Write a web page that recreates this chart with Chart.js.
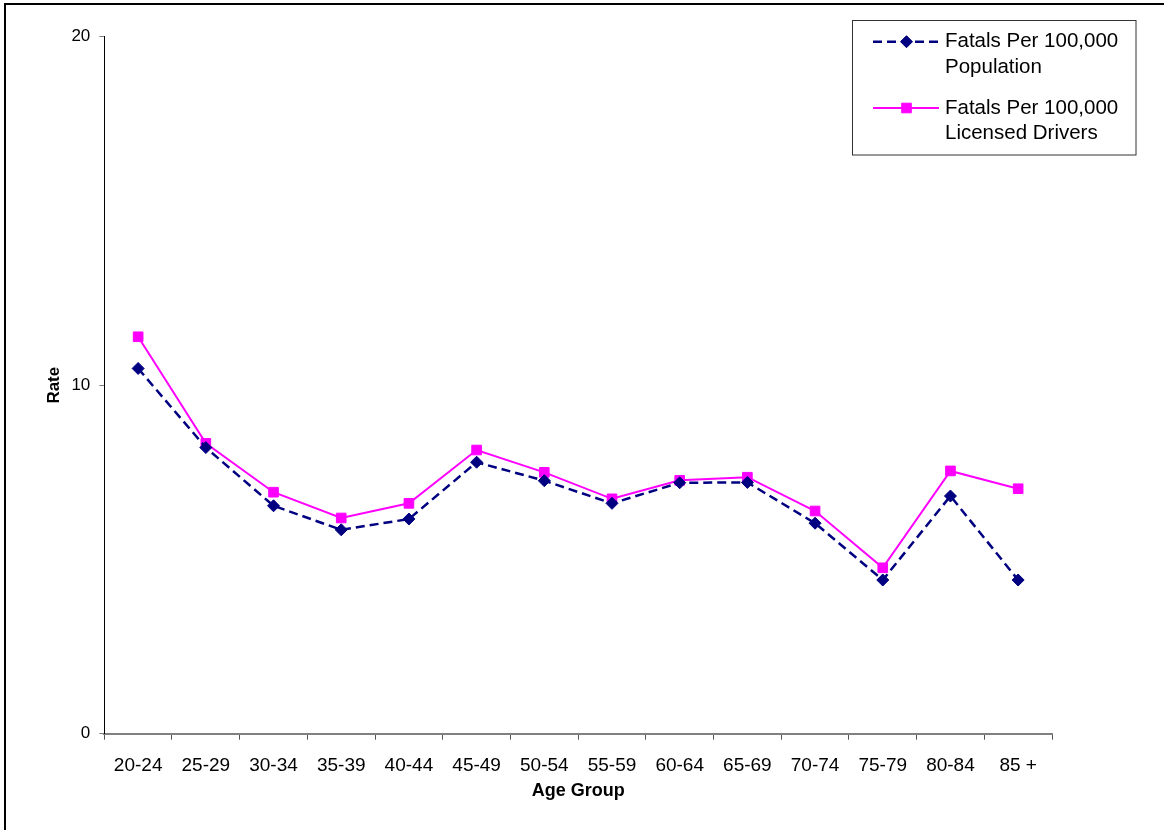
<!DOCTYPE html>
<html>
<head>
<meta charset="utf-8">
<script src="https://cdn.jsdelivr.net/npm/chart.js@4/dist/chart.umd.min.js"></script>
<style>
  html, body { margin: 0; padding: 0; background: #ffffff; }
  canvas { display: block; }
</style>
</head>
<body>
<canvas id="c" width="1164" height="830"></canvas>
<script>
const categories = ['20-24','25-29','30-34','35-39','40-44','45-49','50-54','55-59','60-64','65-69','70-74','75-79','80-84','85 +'];
const populationRates = [10.48, 8.21, 6.54, 5.85, 6.16, 7.79, 7.26, 6.61, 7.20, 7.21, 6.04, 4.41, 6.82, 4.41];
const licensedRates   = [11.39, 8.33, 6.93, 6.19, 6.61, 8.14, 7.50, 6.74, 7.27, 7.36, 6.39, 4.76, 7.54, 7.03];
const yTicks = [0, 10, 20];
const seriesLabels = [['Fatals Per 100,000', 'Population'], ['Fatals Per 100,000', 'Licensed Drivers']];

const NAVY = '#000080';
const MAGENTA = '#FF00FF';
const FONT = '"Liberation Sans", Arial, sans-serif';

const framePlugin = {
  id: 'frame',
  beforeDraw(chart) {
    const ctx = chart.ctx;
    ctx.save();
    ctx.fillStyle = '#ffffff';
    ctx.fillRect(0, 0, chart.width, chart.height);
    ctx.strokeStyle = '#000000';
    ctx.lineWidth = 2;
    ctx.beginPath();
    ctx.moveTo(5, chart.height);
    ctx.lineTo(5, 4);
    ctx.lineTo(chart.width, 4);
    ctx.stroke();
    ctx.restore();
  },
  afterDraw(chart) {
    const ctx = chart.ctx;
    ctx.save();
    ctx.strokeStyle = '#333333';
    ctx.lineWidth = 1;
    ctx.strokeRect(852.5, 20.5, 283.5, 134.5);
    const rows = [41.7, 108];
    chart.data.datasets.forEach((ds, i) => {
      const y = rows[i];
      ctx.save();
      ctx.strokeStyle = ds.borderColor;
      ctx.lineWidth = ds.borderWidth;
      ctx.setLineDash(ds.borderDash || []);
      ctx.beginPath();
      ctx.moveTo(873, y);
      ctx.lineTo(939, y);
      ctx.stroke();
      ctx.restore();
      ctx.save();
      ctx.fillStyle = ds.pointBackgroundColor;
      ctx.strokeStyle = ds.pointBorderColor;
      ctx.lineWidth = ds.pointBorderWidth;
      ctx.beginPath();
      if (ds.pointStyle === 'rect') {
        const s = ds.pointRadius * Math.SQRT1_2;
        ctx.rect(906.5 - s, y - s, 2 * s, 2 * s);
      } else {
        const r = ds.pointRadius;
        ctx.moveTo(906.5, y - r);
        ctx.lineTo(906.5 + r, y);
        ctx.lineTo(906.5, y + r);
        ctx.lineTo(906.5 - r, y);
        ctx.closePath();
      }
      ctx.fill();
      ctx.stroke();
      ctx.restore();
      ctx.fillStyle = '#000000';
      ctx.font = '20.5px ' + FONT;
      ctx.textBaseline = 'middle';
      ctx.textAlign = 'left';
      const lines = seriesLabels[i];
      lines.forEach((t, k) => ctx.fillText(t, 945, y + k * 25.3));
    });
    ctx.restore();
  }
};

new Chart(document.getElementById('c'), {
  type: 'line',
  data: {
    labels: categories,
    datasets: [
      {
        label: seriesLabels[0].join(' '),
        data: populationRates,
        borderColor: NAVY,
        backgroundColor: NAVY,
        borderWidth: 2.5,
        borderDash: [9, 5],
        pointStyle: 'rectRot',
        pointRadius: 6,
        pointBackgroundColor: NAVY,
        pointBorderColor: NAVY,
        pointBorderWidth: 1,
        tension: 0,
        fill: false
      },
      {
        label: seriesLabels[1].join(' '),
        data: licensedRates,
        borderColor: MAGENTA,
        backgroundColor: MAGENTA,
        borderWidth: 2,
        pointStyle: 'rect',
        pointRadius: 6.8,
        pointBackgroundColor: MAGENTA,
        pointBorderColor: MAGENTA,
        pointBorderWidth: 1,
        tension: 0,
        fill: false
      }
    ]
  },
  options: {
    responsive: false,
    devicePixelRatio: 1,
    animation: false,
    layout: { padding: { top: 36.7, right: 112, left: 0, bottom: 0 } },
    plugins: {
      legend: { display: false },
      tooltip: { enabled: false },
      title: { display: false }
    },
    scales: {
      x: {
        type: 'category',
        offset: true,
        grid: {
          display: true,
          offset: true,
          drawOnChartArea: false,
          drawTicks: true,
          tickLength: 6,
          color: '#555555',
          lineWidth: 1
        },
        border: { display: true, color: '#808080', width: 2 },
        ticks: {
          color: '#000000',
          font: { family: FONT, size: 19 },
          padding: 15,
          maxRotation: 0,
          autoSkip: false
        },
        title: {
          display: true,
          text: 'Age Group',
          color: '#000000',
          font: { family: FONT, size: 18, weight: 'bold' },
          padding: { top: 0, bottom: 28 }
        },
        afterFit(s) { s.height = 96.3; }
      },
      y: {
        type: 'linear',
        min: 0,
        max: 20,
        afterBuildTicks(s) { s.ticks = yTicks.map(v => ({ value: v })); },
        grid: {
          display: true,
          drawOnChartArea: false,
          drawTicks: true,
          tickLength: 5,
          color: '#808080',
          lineWidth: 1
        },
        border: { display: true, color: '#000000', width: 1 },
        ticks: {
          color: '#000000',
          font: { family: FONT, size: 17 },
          padding: 9
        },
        title: {
          display: true,
          text: 'Rate',
          color: '#000000',
          font: { family: FONT, size: 17, weight: 'bold' },
          padding: { top: 44, bottom: 0 }
        },
        afterFit(s) { s.width = 104.3; }
      }
    }
  },
  plugins: [framePlugin]
});
</script>
</body>
</html>
